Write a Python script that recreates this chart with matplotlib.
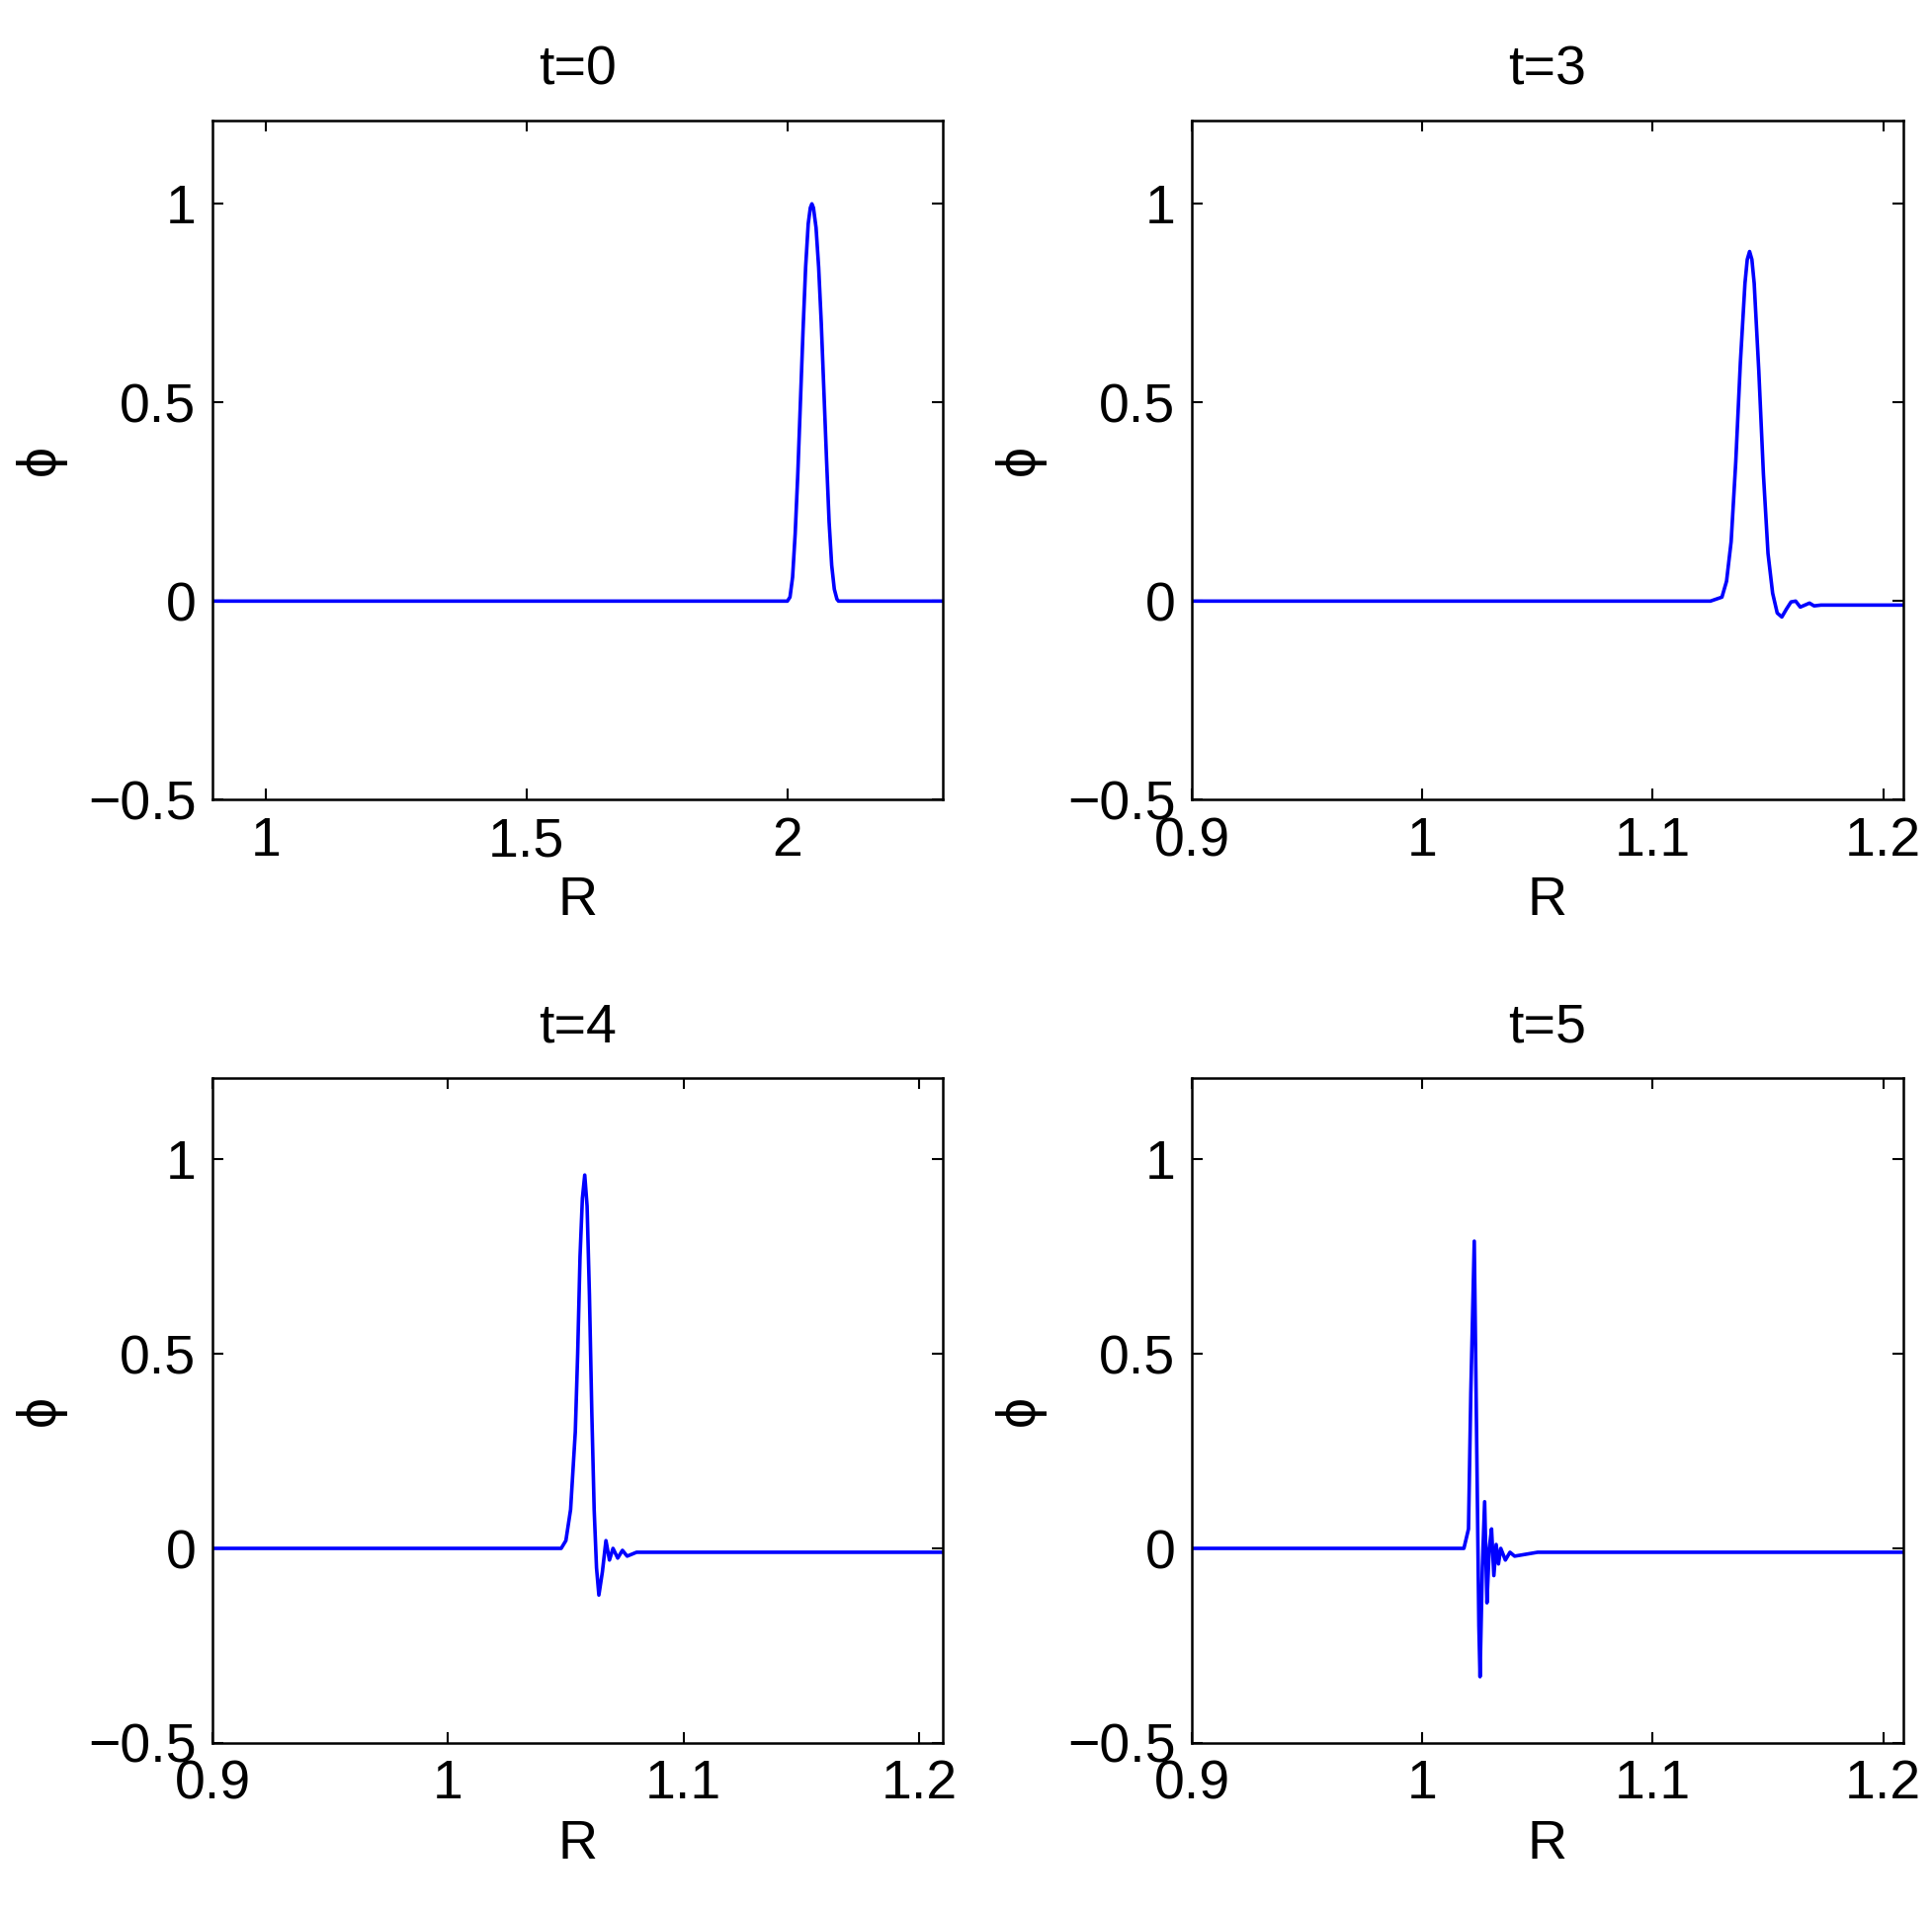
import matplotlib
matplotlib.use("Agg")
import matplotlib.pyplot as plt

plt.rcParams['font.family'] = ['Liberation Sans', 'DejaVu Sans']

titles = ["t=0", "t=3", "t=4", "t=5"]
R0 = [0.9, 2.0, 2.005, 2.01, 2.015, 2.02, 2.025, 2.03, 2.035, 2.04, 2.044, 2.047, 2.05, 2.055,
      2.06, 2.065, 2.07, 2.075, 2.08, 2.085, 2.09, 2.095, 2.098, 2.3]
P0 = [0, 0, 0.01, 0.06, 0.17, 0.32, 0.5, 0.68, 0.84, 0.95, 0.99, 1.0, 0.99, 0.94,
      0.84, 0.7, 0.53, 0.36, 0.2, 0.09, 0.03, 0.005, 0, 0]
R3 = [0.9, 1.125, 1.13, 1.132, 1.134, 1.136, 1.138, 1.14, 1.141, 1.142, 1.143, 1.144, 1.146,
      1.148, 1.15, 1.152, 1.154, 1.156, 1.158, 1.16, 1.162, 1.164, 1.166, 1.168, 1.17, 1.173, 1.18, 1.21]
P3 = [0, 0, 0.01, 0.05, 0.15, 0.35, 0.6, 0.8, 0.86, 0.88, 0.86, 0.8, 0.58,
      0.32, 0.12, 0.02, -0.03, -0.04, -0.02, -0.002, 0.0, -0.015, -0.01, -0.005, -0.012, -0.01, -0.01, -0.01]
R4 = [0.9, 1.048, 1.05, 1.052, 1.054, 1.055, 1.056, 1.057, 1.058, 1.059, 1.060, 1.061, 1.062,
      1.063, 1.064, 1.0655, 1.067, 1.0685, 1.07, 1.072, 1.074, 1.076, 1.08, 1.21]
P4 = [0, 0, 0.02, 0.1, 0.3, 0.5, 0.75, 0.9, 0.96, 0.88, 0.65, 0.35, 0.1,
      -0.05, -0.12, -0.06, 0.02, -0.03, 0.0, -0.025, -0.005, -0.02, -0.01, -0.01]
R5 = [0.9, 1.018, 1.020, 1.021, 1.0225, 1.0235, 1.0245, 1.025, 1.026, 1.027, 1.028, 1.029,
      1.030, 1.031, 1.032, 1.033, 1.034, 1.036, 1.038, 1.04, 1.05, 1.21]
P5 = [0, 0, 0.05, 0.4, 0.79, 0.3, -0.2, -0.33, -0.05, 0.12, -0.14, 0.0,
      0.05, -0.07, 0.01, -0.04, 0.0, -0.03, -0.01, -0.02, -0.01, -0.01]
xlims = [(0.898, 2.298), (0.9, 1.2086), (0.9, 1.21), (0.9, 1.2086)]
xticks = [[1, 1.5, 2], [0.9, 1, 1.1, 1.2], [0.9, 1, 1.1, 1.2], [0.9, 1, 1.1, 1.2]]
xticklabels = [["1", "1.5", "2"], ["0.9", "1", "1.1", "1.2"], ["0.9", "1", "1.1", "1.2"], ["0.9", "1", "1.1", "1.2"]]
yticks = [-0.5, 0, 0.5, 1]
yticklabels = ["\u22120.5", "0", "0.5", "1"]
data = [(R0, P0), (R3, P3), (R4, P4), (R5, P5)]

fig = plt.figure(figsize=(19.55, 19.34), dpi=100)
rects = [(0.110, 0.5815, 0.378, 0.3555), (0.617, 0.5815, 0.368, 0.3555),
         (0.110, 0.088, 0.378, 0.348), (0.617, 0.088, 0.368, 0.348)]
for i, rc in enumerate(rects):
    ax = fig.add_axes(rc)
    ax.plot(data[i][0], data[i][1], color='blue', lw=2.6)
    ax.set_xlim(*xlims[i])
    ax.set_ylim(-0.5, 1.21)
    ax.set_xticks(xticks[i]); ax.set_xticklabels(xticklabels[i])
    ax.set_yticks(yticks); ax.set_yticklabels(yticklabels)
    ax.tick_params(direction='in', top=True, right=True, labelsize=40, length=8, width=1.5, pad=12)
    for s in ax.spines.values():
        s.set_linewidth(1.8)
    ax.set_title(titles[i], fontsize=40, pad=26)
    ax.set_xlabel("R", fontsize=40, labelpad=6)
    ax.set_ylabel("\u03d5", fontsize=40, labelpad=16)
fig.savefig("out.png", dpi=100)
